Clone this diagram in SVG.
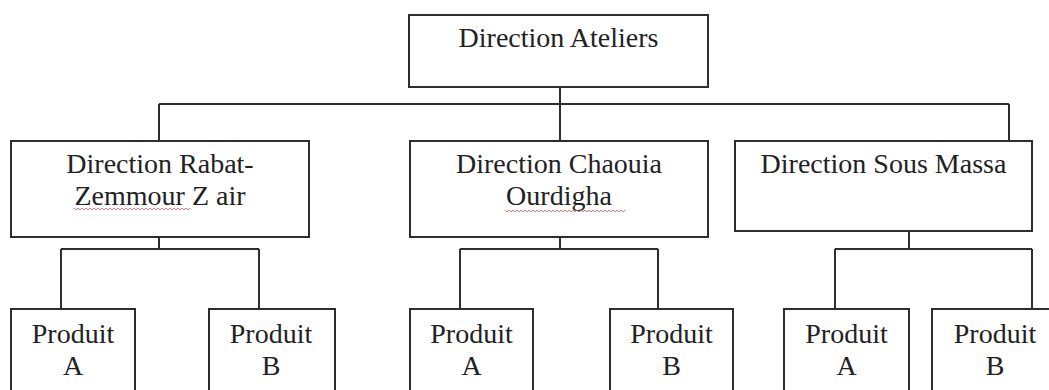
<svg xmlns="http://www.w3.org/2000/svg" width="1049" height="390" viewBox="0 0 1049 390">
<style>
.box{fill:#fff;stroke:#2e2e2e;stroke-width:2}
.ln{fill:none;stroke:#2e2e2e;stroke-width:2}
.t{font-family:'Liberation Serif','Times New Roman',Tinos,'DejaVu Serif',serif;font-size:28px;fill:#222;text-anchor:middle}
.sq{fill:none;stroke:#d04040;stroke-width:1;opacity:0.7}
</style>
<rect width="1049" height="390" fill="#fff"/>
<g id="connectors">
<path class="ln" d="M560 87V141M159 104H1009M159 104V141M1009 104V141"/>
<path class="ln" d="M159 237V249M61 249H259M61 249V309M259 249V309"/>
<path class="ln" d="M560 237V249M460 249H658M460 249V309M658 249V309"/>
<path class="ln" d="M909 231V249M835 249H1032M835 249V309M1032 249V309"/>
</g>
<g id="n-ateliers"><rect class="box" x="409" y="15" width="299" height="72"/><text class="t" x="558.5" y="47">Direction Ateliers</text></g>
<g id="n-rabat"><rect class="box" x="11" y="141" width="298" height="96"/><text class="t" x="160" y="173">Direction Rabat-</text><text class="t" x="160" y="205">Zemmour Z air</text><path class="sq" d="M74 208l2 2 2-2 2 2 2-2 2 2 2-2 2 2 2-2 2 2 2-2 2 2 2-2 2 2 2-2 2 2 2-2 2 2 2-2 2 2 2-2 2 2 2-2 2 2 2-2 2 2 2-2 2 2 2-2 2 2 2-2 2 2 2-2 2 2 2-2 2 2 2-2 2 2 2-2 2 2 2-2 2 2 2-2 2 2 2-2 2 2 2-2 2 2 2-2 2 2 2-2 2 2 2-2 2 2 2-2 2 2 2-2 2 2 2-2"/></g>
<g id="n-chaouia"><rect class="box" x="410" y="141" width="298" height="96"/><text class="t" x="559" y="173">Direction Chaouia</text><text class="t" x="559" y="205">Ourdigha</text><path class="sq" d="M505 210l2 2 2-2 2 2 2-2 2 2 2-2 2 2 2-2 2 2 2-2 2 2 2-2 2 2 2-2 2 2 2-2 2 2 2-2 2 2 2-2 2 2 2-2 2 2 2-2 2 2 2-2 2 2 2-2 2 2 2-2 2 2 2-2 2 2 2-2 2 2 2-2 2 2 2-2 2 2 2-2 2 2 2-2 2 2 2-2 2 2 2-2 2 2 2-2 2 2 2-2 2 2 2-2 2 2 2-2 2 2 2-2 2 2 2-2 2 2 2-2"/></g>
<g id="n-sous"><rect class="box" x="735" y="141" width="297" height="90"/><text class="t" x="883.5" y="173">Direction Sous Massa</text></g>
<g id="n-rabat-a"><rect class="box" x="11" y="309" width="124" height="100"/><text class="t" x="73" y="343">Produit</text><text class="t" x="73" y="375">A</text></g>
<g id="n-rabat-b"><rect class="box" x="209" y="309" width="126" height="100"/><text class="t" x="271" y="343">Produit</text><text class="t" x="271" y="375">B</text></g>
<g id="n-chaouia-a"><rect class="box" x="410" y="309" width="123" height="100"/><text class="t" x="471.5" y="343">Produit</text><text class="t" x="471.5" y="375">A</text></g>
<g id="n-chaouia-b"><rect class="box" x="610" y="309" width="123" height="100"/><text class="t" x="671.5" y="343">Produit</text><text class="t" x="671.5" y="375">B</text></g>
<g id="n-sous-a"><rect class="box" x="784" y="309" width="125" height="100"/><text class="t" x="846.5" y="343">Produit</text><text class="t" x="846.5" y="375">A</text></g>
<g id="n-sous-b"><rect class="box" x="932" y="309" width="126" height="100"/><text class="t" x="995" y="343">Produit</text><text class="t" x="995" y="375">B</text></g>
</svg>
